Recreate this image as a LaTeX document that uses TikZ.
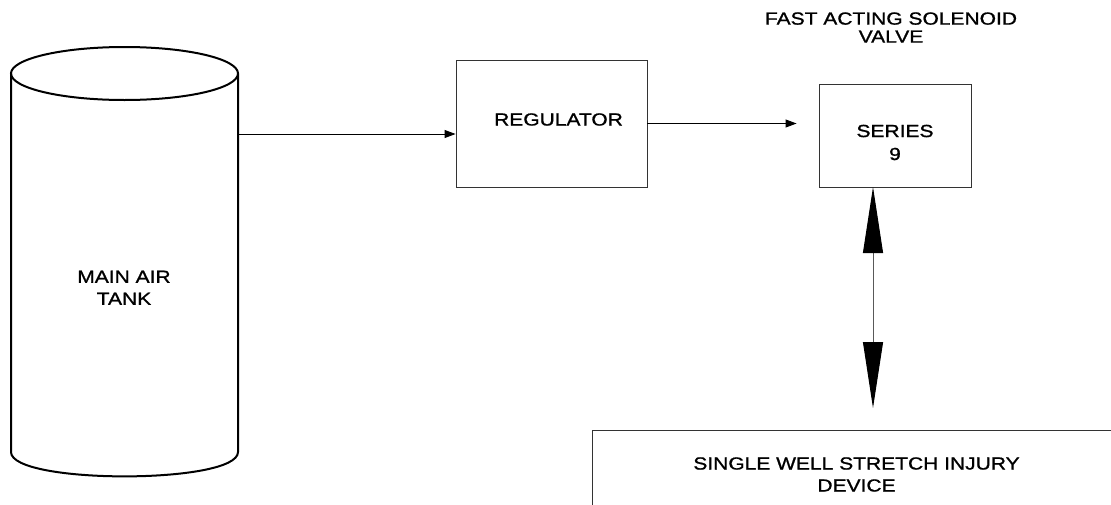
\documentclass[tikz,border=0pt]{standalone}
\usepackage{fontspec}
\setmainfont{Liberation Sans}[FakeStretch=1.2,FakeBold=1.1]
\usetikzlibrary{arrows.meta}
\begin{document}
\begin{tikzpicture}[x=1pt,y=-1pt,
  box/.style={draw=black!80, line width=0.9pt, rectangle, inner sep=0pt},
  lbl/.style={align=center, inner sep=0pt, font=\fontsize{17.5}{22}\selectfont},
  flow/.style={draw=black, line width=0.9pt, -{Triangle[length=11pt,width=8pt]}},
  bigarrow/.style={draw=black!65, line width=1pt, {Triangle[length=66pt,width=20pt,color=black,fill=black]}-{Triangle[length=66pt,width=20pt,color=black,fill=black]}},
  tankline/.style={draw=black, line width=2pt}]
\useasboundingbox (0,0) rectangle (1111,504);
\clip (0,0) rectangle (1111,504);
% main air tank
\draw[tankline] (124.5,73.5) ellipse [x radius=113.5, y radius=26.5];
\draw[tankline] (11,73.5) -- (11,452) .. controls (11,484.5) and (238,484.5) .. (238,452) -- (238,73.5);
\node[lbl] (tank) at (124,287.75) {MAIN AIR\\TANK};
\coordinate (tankout) at (238,134);
% regulator
\node[box, minimum width=191pt, minimum height=127pt] (reg) at (551.5,123.5) {};
\node[lbl] (regtext) at (558.5,119.5) {REGULATOR};
% valve
\node[box, minimum width=152pt, minimum height=103pt] (valve) at (895,135.5) {};
\node[lbl, font=\fontsize{17.5}{23}\selectfont] (valvetext) at (895,142.5) {SERIES\\9};
\node[lbl, font=\fontsize{17.5}{18}\selectfont] (title) at (891,27.5) {FAST ACTING SOLENOID\\VALVE};
\coordinate (valvebot) at (873,187);
% device
\node[box, minimum width=560pt, minimum height=120pt, anchor=north west] (dev) at (592,430) {};
\node[lbl] (devtext) at (856.5,474.5) {SINGLE WELL STRETCH INJURY\\DEVICE};
% connectors
\draw[flow] (tankout) -- (tankout -| reg.west);
\draw[flow, shorten >=22pt] (reg.east) -- (reg.east -| valve.west);
\draw[bigarrow, shorten >=22pt] (valvebot) -- (valvebot |- dev.north);
\end{tikzpicture}
\end{document}
